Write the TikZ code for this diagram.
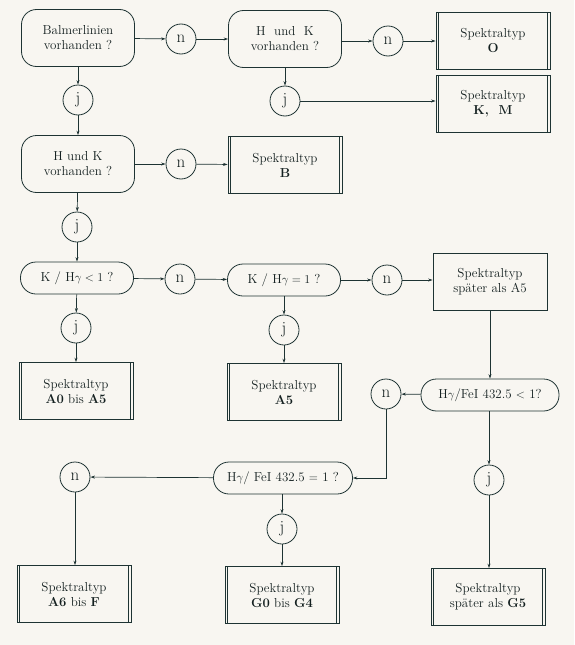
\documentclass[tikz,border=0pt]{standalone}
\usetikzlibrary{arrows.meta}
\definecolor{bg}{HTML}{F8F6F1}
\definecolor{ink}{HTML}{1E3333}
\definecolor{txt}{HTML}{142020}
\begin{document}
\begin{tikzpicture}[x=1pt,y=-1pt,
  every node/.style={font=\fontsize{13}{15}\selectfont, text=txt, align=center, inner sep=0pt},
  ask/.style={draw=ink, line width=0.8pt, rounded corners=15pt, minimum width=113pt, minimum height=57pt},
  pill/.style={draw=ink, line width=0.8pt, rounded corners=15.5pt, minimum width=113pt, minimum height=32pt},
  ans/.style={draw=ink, line width=0.8pt, circle, minimum size=30pt, font=\fontsize{17}{19}\selectfont},
  result/.style={draw=ink, line width=0.8pt, minimum width=114pt, minimum height=57pt},
  dresult/.style={result, path picture={
     \draw[ink, line width=0.8pt] ([xshift=2.6pt]path picture bounding box.north west) -- ([xshift=2.6pt]path picture bounding box.south west);
     \draw[ink, line width=0.8pt] ([xshift=-2.6pt]path picture bounding box.north east) -- ([xshift=-2.6pt]path picture bounding box.south east);}},
  arr/.style={draw=ink, line width=0.7pt, -{Stealth[length=4.5pt,width=3pt]}}]
\fill[bg] (0,0) rectangle (574,645);
\useasboundingbox (0,0) rectangle (574,645);

% row 1
\node[ask] (b1) at (78,38) {Balmerlinien\\vorhanden ?};
\node[ans] (n1) at (181,39) {n};
\node[ask] (b2) at (285,39) {H\ \ und\ \ K\\vorhanden ?};
\node[ans] (n2) at (388,41) {n};
\node[dresult] (rO) at (493,41) {Spektraltyp\\\textbf{O}};
% row 2
\node[ans] (j1) at (78,100) {j};
\node[ans] (j2) at (285,101) {j};
\node[dresult] (rKM) at (493,104) {Spektraltyp\\\textbf{K,\ \ M}};
% row 3
\node[ask] (b3) at (78,164) {H und K\\vorhanden ?};
\node[ans] (n3) at (181,164) {n};
\node[dresult] (rB) at (285,165) {Spektraltyp\\\textbf{B}};
% row 4
\node[ans] (j3) at (77,227) {j};
\node[pill] (k1) at (77,278) {K / H$\gamma < 1$ ?};
\node[ans] (n4) at (180,279) {n};
\node[pill] (k2) at (284,280) {K / H$\gamma = 1$ ?};
\node[ans] (n5) at (387,280) {n};
\node[result] (rA5s) at (490,282) {Spektraltyp\\später als A5};
% row 5
\node[ans] (j4) at (76,328) {j};
\node[ans] (j5) at (284,330) {j};
\node[dresult] (rA0) at (76,391) {Spektraltyp\\\textbf{A0} bis \textbf{A5}};
\node[dresult] (rA5) at (284,392) {Spektraltyp\\\textbf{A5}};
\node[ans] (n6) at (386,394) {n};
\node[pill, minimum width=138pt] (h1) at (490,395) {H$\gamma$/FeI 432.5 $<$ 1?};
% row 6
\node[ans] (n7) at (75,477) {n};
\node[pill, minimum width=139pt] (h2) at (283,478) {H$\gamma$/\ FeI 432.5 $=$ 1 ?};
\node[ans] (j6) at (489,480) {j};
\node[ans] (j7) at (282,529) {j};
% row 7
\node[dresult] (rA6) at (74,594) {Spektraltyp\\\textbf{A6} bis \textbf{F}};
\node[dresult] (rG0) at (282,595) {Spektraltyp\\\textbf{G0} bis \textbf{G4}};
\node[dresult] (rG5) at (488,597) {Spektraltyp\\später als \textbf{G5}};

% connectors
\draw[arr] (b1) -- (n1);
\draw[arr] (n1) -- (b2);
\draw[arr] (b2.east |- n2) -- (n2);
\draw[arr] (n2) -- (rO.west |- n2);
\draw[arr] (b1) -- (j1);
\draw[arr] (j1) -- (b3);
\draw[arr] (b2) -- (j2);
\draw[arr] (j2) -- (rKM.west |- j2);
\draw[arr] (b3) -- (n3);
\draw[arr] (n3) -- (rB);
\draw[arr] (b3) -- (j3);
\draw[arr] (j3) -- (k1);
\draw[arr] (k1) -- (n4);
\draw[arr] (n4) -- (k2);
\draw[arr] (k2) -- (n5);
\draw[arr] (n5) -- (rA5s.west |- n5);
\draw[arr] (k1) -- (j4);
\draw[arr] (j4) -- (rA0);
\draw[arr] (k2) -- (j5);
\draw[arr] (j5) -- (rA5);
\draw[arr] (rA5s) -- (h1);
\draw[arr] (h1) -- (n6);
\draw[arr] (n6) |- (h2);
\draw[arr] (h1.south -| j6) -- (j6);
\draw[arr] (j6) -- (rG5.north -| j6);
\draw[arr] (h2) -- (n7);
\draw[arr] (n7) -- (rA6.north -| n7);
\draw[arr] (h2.south -| j7) -- (j7);
\draw[arr] (j7) -- (rG0.north -| j7);
\end{tikzpicture}
\end{document}
